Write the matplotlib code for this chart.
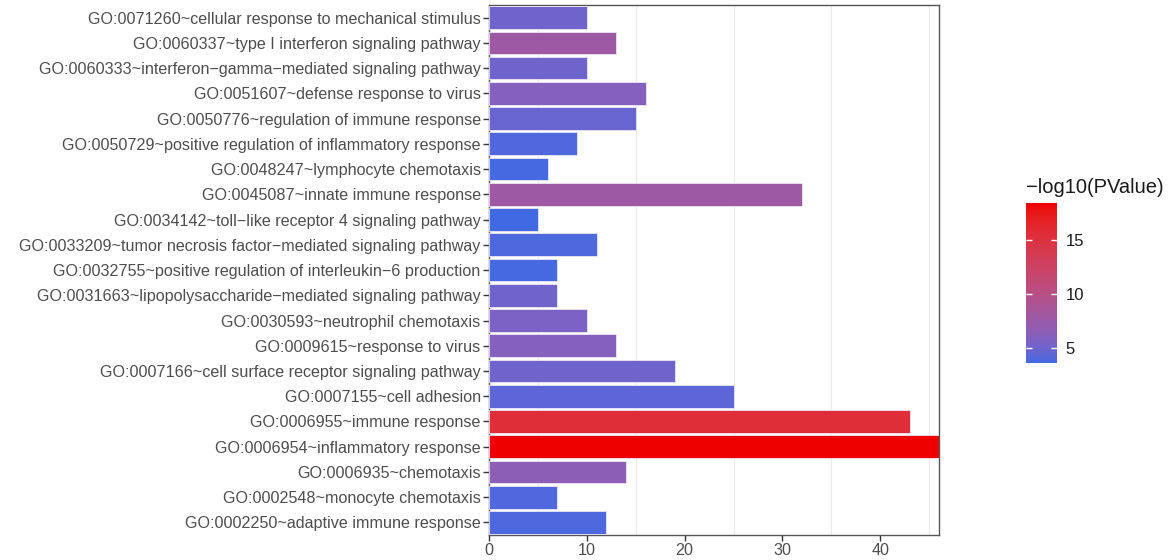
import numpy as np
import matplotlib
matplotlib.use("Agg")
import matplotlib.pyplot as plt
from matplotlib.colors import ListedColormap, Normalize
from matplotlib.cm import ScalarMappable

plt.rcParams['font.family'] = ['Liberation Sans', 'DejaVu Sans']

terms = [
    "GO:0071260~cellular response to mechanical stimulus",
    "GO:0060337~type I interferon signaling pathway",
    "GO:0060333~interferon\u2212gamma\u2212mediated signaling pathway",
    "GO:0051607~defense response to virus",
    "GO:0050776~regulation of immune response",
    "GO:0050729~positive regulation of inflammatory response",
    "GO:0048247~lymphocyte chemotaxis",
    "GO:0045087~innate immune response",
    "GO:0034142~toll\u2212like receptor 4 signaling pathway",
    "GO:0033209~tumor necrosis factor\u2212mediated signaling pathway",
    "GO:0032755~positive regulation of interleukin\u22126 production",
    "GO:0031663~lipopolysaccharide\u2212mediated signaling pathway",
    "GO:0030593~neutrophil chemotaxis",
    "GO:0009615~response to virus",
    "GO:0007166~cell surface receptor signaling pathway",
    "GO:0007155~cell adhesion",
    "GO:0006955~immune response",
    "GO:0006954~inflammatory response",
    "GO:0006935~chemotaxis",
    "GO:0002548~monocyte chemotaxis",
    "GO:0002250~adaptive immune response",
]
counts = [10, 13, 10, 16, 15, 9, 6, 32, 5, 11, 7, 7, 10, 13, 19, 25, 43, 46, 14, 7, 12]
neglog_p = [5.0, 7.8, 5.0, 6.1, 4.8, 4.0, 3.7, 7.8, 3.6, 3.9, 3.7, 5.0, 5.6, 6.1,
            5.0, 4.3, 15.5, 18.4, 6.5, 4.0, 3.9]


# gradient interpolated in CIE Lab, like ggplot's scale_fill_gradient
def srgb_to_lab(rgb):
    rgb = np.asarray(rgb, float)
    lin = np.where(rgb <= 0.04045, rgb / 12.92, ((rgb + 0.055) / 1.055) ** 2.4)
    m = np.array([[0.4124, 0.3576, 0.1805],
                  [0.2126, 0.7152, 0.0722],
                  [0.0193, 0.1192, 0.9505]])
    xyz = m @ lin / np.array([0.95047, 1.0, 1.08883])
    f = np.where(xyz > 0.008856, np.cbrt(xyz), 7.787 * xyz + 16 / 116)
    return np.array([116 * f[1] - 16, 500 * (f[0] - f[1]), 200 * (f[1] - f[2])])


def lab_to_srgb(lab):
    L, a, b = lab
    fy = (L + 16) / 116
    fx = fy + a / 500
    fz = fy - b / 200
    f = np.array([fx, fy, fz])
    xyz = np.where(f ** 3 > 0.008856, f ** 3, (f - 16 / 116) / 7.787)
    xyz = xyz * np.array([0.95047, 1.0, 1.08883])
    minv = np.array([[3.2406, -1.5372, -0.4986],
                     [-0.9689, 1.8758, 0.0415],
                     [0.0557, -0.2040, 1.0570]])
    lin = minv @ xyz
    rgb = np.where(lin <= 0.0031308, 12.92 * lin, 1.055 * np.clip(lin, 0, None) ** (1 / 2.4) - 0.055)
    return np.clip(rgb, 0, 1)


low = srgb_to_lab(np.array([0x41, 0x69, 0xE1]) / 255)
high = srgb_to_lab(np.array([0xEE, 0x00, 0x00]) / 255)
cmap = ListedColormap([lab_to_srgb(low + (high - low) * t) for t in np.linspace(0, 1, 256)])
norm = Normalize(vmin=min(neglog_p), vmax=max(neglog_p))

fig = plt.figure(figsize=(11.73, 5.6), dpi=100)
ax = fig.add_axes([0.4169, 0.0446, 0.3836, 0.9464])

y = np.arange(len(terms))
ax.barh(y, counts, height=0.9, color=cmap(norm(neglog_p)),
        edgecolor="#ECE6F4", linewidth=0.6, zorder=3)
ax.set_ylim(len(terms) - 0.5, -0.5)
ax.set_xlim(0, max(counts))
ax.set_yticks(y)
ax.set_yticklabels(terms)
ax.set_xticks([0, 10, 20, 30, 40])
ax.set_xticks([5, 15, 25, 35, 45], minor=True)
ax.grid(True, which="minor", axis="x", color="#EBEBEB", linewidth=0.8, zorder=0)
ax.tick_params(axis="both", which="major", length=4, width=1.0, color="#333333",
               labelcolor="#4D4D4D", labelsize=11.6, pad=2)
ax.tick_params(axis="x", which="minor", length=0)
for s in ax.spines.values():
    s.set_color("#555555")
    s.set_linewidth(1.0)

# colour legend
cax = fig.add_axes([1026 / 1173, 1 - 363 / 560, 31 / 1173, 160 / 560])
cb = fig.colorbar(ScalarMappable(norm=norm, cmap=cmap), cax=cax, ticks=[5, 10, 15])
cb.outline.set_visible(False)
cax.tick_params(length=4, width=1.0, color="white", direction="in",
                labelsize=12, labelcolor="#1A1A1A", pad=6, left=True)
fig.text(1026 / 1173, 1 - 188 / 560, "\u2212log10(PValue)", fontsize=14.5,
         color="#1A1A1A", va="center", ha="left")

fig.savefig("out.png", dpi=100)
